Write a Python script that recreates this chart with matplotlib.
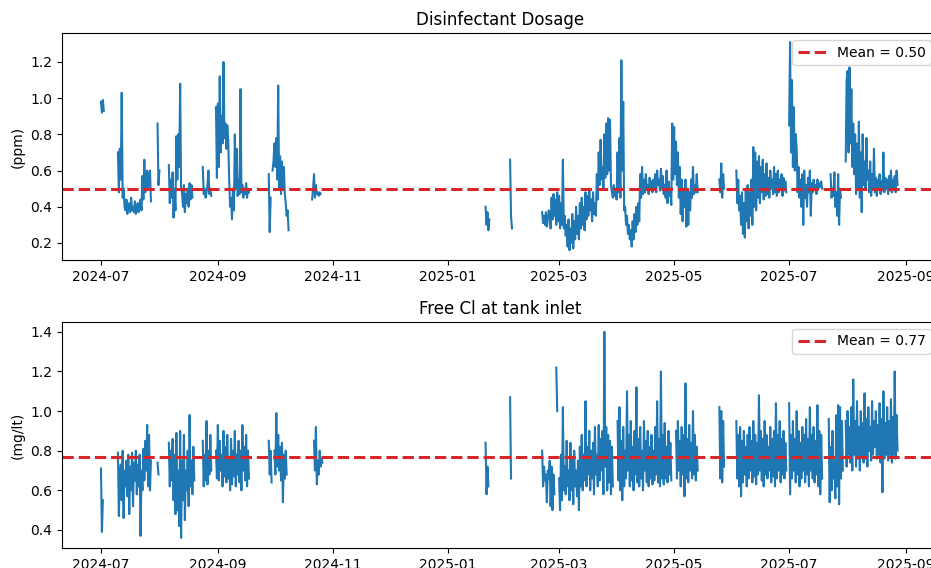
import numpy as np
import pandas as pd
import matplotlib
matplotlib.use("Agg")
import matplotlib.pyplot as plt
import matplotlib.dates as mdates

# logged readings, two per day (00:00 and 12:00), one list per logging run
dosage_starts = ["2024-07-01", "2024-07-10", "2024-07-31", "2024-08-06", "2024-08-24",
                 "2024-08-31", "2024-09-28", "2024-09-30", "2024-10-21", "2025-01-21",
                 "2025-02-03", "2025-02-20", "2025-05-25", "2025-06-03", "2025-07-01",
                 "2025-07-23", "2025-07-31"]
dosage_runs = [
    [0.98, 0.92, 0.99, 0.93],
    [0.70, 0.48, 0.72, 0.55, 1.03, 0.45, 0.50, 0.40, 0.38, 0.44, 0.36, 0.42,
     0.41, 0.37, 0.45, 0.38, 0.40, 0.37, 0.43, 0.36, 0.38, 0.42, 0.37, 0.40,
     0.44, 0.38, 0.57, 0.44, 0.66, 0.48, 0.55, 0.60, 0.50, 0.58, 0.60, 0.43],
    [0.86, 0.52, 0.60],
    [0.63, 0.42, 0.55, 0.45, 0.59, 0.34, 0.50, 0.38, 0.79, 0.55, 0.80, 0.62,
     1.08, 0.50, 0.48, 0.40, 0.52, 0.37, 0.47, 0.42, 0.50, 0.40, 0.53, 0.44,
     0.52, 0.45],
    [0.62, 0.47, 0.50, 0.45, 0.48, 0.52, 0.60, 0.47, 0.50, 0.46],
    [0.95, 0.56, 0.97, 0.62, 1.12, 0.70, 0.90, 0.75, 1.20, 0.78, 0.86, 0.72,
     0.85, 0.77, 0.55, 0.40, 0.45, 0.33, 0.50, 0.38, 0.80, 0.50, 0.72, 0.46,
     0.55, 0.47, 1.05, 0.48, 0.52, 0.45, 0.50, 0.47, 0.53, 0.45, 0.50, 0.48],
    [0.58, 0.26, 0.45],
    [0.60, 0.65, 0.75, 0.62, 0.78, 0.55, 1.07, 0.50, 0.68, 0.47, 0.65, 0.50,
     0.62, 0.47, 0.42, 0.35, 0.38, 0.27],
    [0.44, 0.50, 0.58, 0.45, 0.52, 0.47, 0.48, 0.46, 0.48, 0.47],
    [0.40, 0.30, 0.37, 0.27, 0.33],
    [0.66, 0.35, 0.28],
    [0.37, 0.31, 0.35, 0.30, 0.37, 0.29, 0.33, 0.38, 0.36, 0.28, 0.45, 0.33,
     0.47, 0.35, 0.44, 0.30, 0.48, 0.32, 0.46, 0.28, 0.42, 0.30, 0.66, 0.28,
     0.35, 0.24, 0.30, 0.18, 0.33, 0.16, 0.28, 0.20, 0.36, 0.17, 0.32, 0.22,
     0.40, 0.25, 0.35, 0.22, 0.42, 0.28, 0.45, 0.30, 0.40, 0.27, 0.48, 0.33,
     0.46, 0.35, 0.50, 0.38, 0.44, 0.32, 0.48, 0.36, 0.42, 0.35, 0.58, 0.44,
     0.70, 0.52, 0.77, 0.55, 0.62, 0.50, 0.80, 0.56, 0.86, 0.58, 0.89, 0.60,
     0.88, 0.52, 0.48, 0.45, 0.52, 0.46, 0.50, 0.44, 0.70, 0.48, 0.78, 0.45,
     1.21, 0.60, 0.98, 0.38, 0.40, 0.30, 0.35, 0.25, 0.30, 0.22, 0.27, 0.18,
     0.32, 0.22, 0.36, 0.26, 0.40, 0.30, 0.42, 0.32, 0.58, 0.45, 0.62, 0.47,
     0.55, 0.48, 0.58, 0.50, 0.52, 0.47, 0.56, 0.50, 0.54, 0.48, 0.55, 0.50,
     0.58, 0.48, 0.60, 0.52, 0.55, 0.49, 0.61, 0.50, 0.57, 0.47, 0.52, 0.45,
     0.60, 0.42, 0.54, 0.46, 0.50, 0.41, 0.86, 0.55, 0.84, 0.58, 0.76, 0.52,
     0.70, 0.45, 0.62, 0.36, 0.55, 0.32, 0.50, 0.40, 0.55, 0.29, 0.50, 0.30,
     0.48, 0.38, 0.55, 0.45, 0.62, 0.47, 0.52, 0.48, 0.58, 0.48],
    [0.55, 0.48, 0.64, 0.45, 0.58, 0.50],
    [0.60, 0.42, 0.55, 0.38, 0.46, 0.30, 0.48, 0.25, 0.42, 0.23, 0.50, 0.32,
     0.52, 0.28, 0.48, 0.35, 0.55, 0.30, 0.73, 0.40, 0.70, 0.38, 0.65, 0.45,
     0.68, 0.42, 0.62, 0.48, 0.66, 0.44, 0.58, 0.46, 0.64, 0.47, 0.56, 0.45,
     0.60, 0.50, 0.55, 0.47, 0.62, 0.48, 0.58, 0.46, 0.60, 0.48, 0.55, 0.50,
     0.58, 0.46, 0.56, 0.49, 0.54, 0.48],
    [0.85, 1.31, 0.70, 1.10, 0.62, 0.95, 0.60, 0.80, 0.72, 0.48, 0.62, 0.45,
     0.55, 0.40, 0.58, 0.30, 0.60, 0.45, 0.52, 0.40, 0.56, 0.48, 0.60, 0.35,
     0.53, 0.48, 0.55, 0.50, 0.52, 0.47, 0.55, 0.50, 0.53, 0.51, 0.54, 0.50],
    [0.58, 0.45, 0.50, 0.46, 0.59, 0.40, 0.48, 0.35, 0.58, 0.30, 0.50, 0.45],
    [0.65, 1.10, 1.15, 0.70, 1.17, 0.75, 1.05, 0.62, 0.86, 0.58, 0.80, 0.47,
     0.75, 0.50, 0.87, 0.45, 0.70, 0.37, 0.80, 0.52, 0.65, 0.50, 0.78, 0.55,
     0.60, 0.48, 0.65, 0.46, 0.58, 0.50, 0.72, 0.48, 0.56, 0.46, 0.55, 0.50,
     0.58, 0.47, 0.54, 0.49, 0.70, 0.48, 0.56, 0.50, 0.55, 0.47, 0.57, 0.49,
     0.60, 0.48, 0.55, 0.50, 0.57, 0.48, 0.60, 0.52],
]

chlorine_starts = ["2024-07-01", "2024-07-10", "2024-07-31", "2024-08-06", "2024-08-24",
                   "2024-08-31", "2024-09-28", "2024-10-01", "2024-10-22", "2025-01-21",
                   "2025-02-03", "2025-02-20", "2025-02-27 12:00", "2025-03-01",
                   "2025-04-01", "2025-05-02", "2025-05-25", "2025-06-03", "2025-07-01",
                   "2025-07-22", "2025-07-31"]
chlorine_runs = [
    [0.71, 0.39, 0.55],
    [0.79, 0.47, 0.66, 0.73, 0.55, 0.80, 0.46, 0.70, 0.62, 0.75, 0.57, 0.78,
     0.48, 0.72, 0.60, 0.79, 0.52, 0.74, 0.65, 0.80, 0.58, 0.73, 0.62, 0.78,
     0.37, 0.70, 0.60, 0.81, 0.65, 0.85, 0.70, 0.93, 0.62, 0.88, 0.60, 0.75],
    [0.74, 0.68],
    [0.84, 0.62, 0.80, 0.65, 0.86, 0.55, 0.78, 0.48, 0.89, 0.50, 0.70, 0.42,
     0.90, 0.36, 0.75, 0.55, 0.88, 0.45, 0.70, 0.60, 0.80, 0.52, 0.98, 0.62,
     0.75, 0.58, 0.82, 0.65],
    [0.85, 0.62, 0.78, 0.65, 0.95, 0.63, 0.80, 0.68, 0.88, 0.70],
    [0.80, 0.66, 0.93, 0.65, 0.85, 0.70, 0.78, 0.62, 0.90, 0.67, 0.82, 0.64,
     0.88, 0.66, 0.76, 0.60, 0.86, 0.63, 0.80, 0.67, 0.90, 0.62, 0.78, 0.68,
     0.85, 0.64, 0.80, 0.60, 0.93, 0.70, 0.82, 0.65, 0.88, 0.62, 0.80, 0.66],
    [0.85, 0.68, 0.80, 0.64],
    [0.80, 0.68, 0.99, 0.72, 0.88, 0.70, 0.82, 0.65, 0.84, 0.54, 0.78, 0.66,
     0.80, 0.68],
    [0.85, 0.70, 0.92, 0.63, 0.75, 0.68, 0.80, 0.72, 0.76, 0.74],
    [0.84, 0.58, 0.72, 0.62],
    [1.07, 0.66],
    [0.80, 0.62, 0.72, 0.65, 0.68, 0.54, 0.70, 0.66, 0.75, 0.52, 0.72, 0.50,
     0.68, 0.58],
    [1.22, 1.00],
    [0.66, 0.50, 0.78, 0.55, 1.02, 0.60, 0.72, 0.58, 0.85, 0.62, 0.70, 0.55,
     0.84, 0.60, 0.76, 0.53, 0.80, 0.62, 0.70, 0.57, 0.75, 0.50, 0.82, 0.62,
     0.88, 0.60, 0.78, 0.65, 1.05, 0.62, 0.82, 0.68, 0.90, 0.60, 0.80, 0.66,
     0.84, 0.58, 0.92, 0.68, 0.78, 0.62, 0.93, 0.65, 0.86, 0.70, 0.90, 0.58,
     1.40, 0.72, 0.92, 0.60, 0.88, 0.64, 0.85, 0.58, 0.82, 0.62],
    [0.95, 0.65, 1.02, 0.60, 0.85, 0.55, 0.92, 0.62, 0.80, 0.66, 1.10, 0.70,
     0.88, 0.62, 0.95, 0.65, 0.82, 0.60, 0.90, 0.68, 1.12, 0.64, 0.86, 0.62,
     0.92, 0.66, 0.80, 0.60, 0.95, 0.70, 0.85, 0.64, 0.90, 0.62, 0.82, 0.66,
     0.88, 0.63, 0.80, 0.65, 0.92, 0.68, 1.05, 0.64, 0.86, 0.62, 1.20, 0.66,
     0.88, 0.63, 0.94, 0.66, 0.82, 0.64, 0.90, 0.68, 0.84, 0.65],
    [0.90, 0.66, 0.95, 0.70, 0.85, 0.62, 0.92, 0.68, 0.88, 0.57, 1.14, 0.66,
     0.86, 0.64, 0.93, 0.70, 0.84, 0.66, 1.00, 0.68, 0.88, 0.65, 0.82, 0.70],
    [1.02, 0.66, 1.00, 0.64, 0.95, 0.72],
    [0.95, 0.66, 0.88, 0.62, 0.92, 0.57, 0.85, 0.64, 0.90, 0.68, 0.82, 0.62,
     0.88, 0.66, 0.92, 0.70, 0.85, 0.64, 0.95, 0.67, 0.88, 0.63, 0.84, 0.68,
     1.08, 0.70, 0.90, 0.65, 0.86, 0.62, 0.95, 0.68, 0.88, 0.66, 0.82, 0.70,
     0.92, 0.64, 0.86, 0.67, 0.90, 0.62, 1.04, 0.66, 0.88, 0.70, 0.95, 0.64,
     0.86, 0.68, 0.90, 0.66, 0.84, 0.70],
    [1.04, 0.58, 0.88, 0.66, 0.95, 0.70, 0.86, 0.64, 1.00, 0.68, 0.90, 0.62,
     0.84, 0.66, 0.92, 0.70, 0.88, 0.64, 0.96, 0.68, 0.86, 0.62, 1.02, 0.70,
     0.88, 0.66, 0.92, 0.64, 0.85, 0.68, 1.03, 0.62, 0.90, 0.58, 0.88, 0.66],
    [0.96, 0.54, 0.82, 0.60, 0.90, 0.66, 0.75, 0.56, 0.98, 0.62, 1.03, 0.53,
     1.02, 0.66, 0.95, 0.70],
    [0.95, 0.72, 1.00, 0.78, 0.92, 0.74, 1.02, 0.70, 1.16, 0.78, 0.95, 0.72,
     1.05, 0.76, 0.92, 0.70, 1.00, 0.78, 0.94, 0.74, 1.09, 0.76, 0.96, 0.72,
     1.02, 0.80, 0.92, 0.75, 1.05, 0.78, 0.95, 0.82, 1.00, 0.76, 0.93, 0.78,
     1.04, 0.74, 0.96, 0.59, 1.10, 0.76, 0.94, 0.78, 1.02, 0.75, 0.95, 0.78,
     1.06, 0.74, 0.97, 0.78, 1.20, 0.76, 0.98, 0.80],
]

dosage_mean = 0.50
chlorine_mean = 0.77


def join_runs(starts, runs):
    # stitch the runs together with a NaN after each so the line breaks at gaps
    t, v = [], []
    for s, vals in zip(starts, runs):
        idx = pd.date_range(s, periods=len(vals), freq="12h")
        t.extend(idx)
        v.extend(vals)
        t.append(idx[-1] + pd.Timedelta(hours=6))
        v.append(np.nan)
    return pd.to_datetime(t), np.array(v, dtype=float)


dose_t, dose_v = join_runs(dosage_starts, dosage_runs)
cl_t, cl_v = join_runs(chlorine_starts, chlorine_runs)

fig = plt.figure(figsize=(9.31, 5.68), dpi=100)
ax1 = fig.add_axes([0.0666, 0.5423, 0.941, 0.3996])
ax2 = fig.add_axes([0.0666, 0.0352, 0.941, 0.398])

xlim = (pd.Timestamp("2024-06-10 08:00"), pd.Timestamp("2025-09-18"))

ax1.plot(dose_t, dose_v, color="#1f77b4", lw=1.5)
ax1.axhline(dosage_mean, color="#d62728", ls="--", lw=2.2, label=f"Mean = {dosage_mean:.2f}")
ax1.set_title("Disinfectant Dosage")
ax1.set_ylabel("(ppm)")
ax1.set_ylim(0.106, 1.36)
ax1.legend(loc="upper right")

ax2.plot(cl_t, cl_v, color="#1f77b4", lw=1.5)
ax2.axhline(chlorine_mean, color="#d62728", ls="--", lw=2.2, label=f"Mean = {chlorine_mean:.2f}")
ax2.set_title("Free Cl at tank inlet")
ax2.set_ylabel("(mg/lt)")
ax2.set_ylim(0.309, 1.45)
ax2.legend(loc="upper right")

for ax in (ax1, ax2):
    ax.set_xlim(xlim)
    ax.xaxis.set_major_locator(mdates.MonthLocator(bymonth=[1, 3, 5, 7, 9, 11]))
    ax.xaxis.set_major_formatter(mdates.DateFormatter("%Y-%m"))

fig.savefig("out.png", dpi=100)
